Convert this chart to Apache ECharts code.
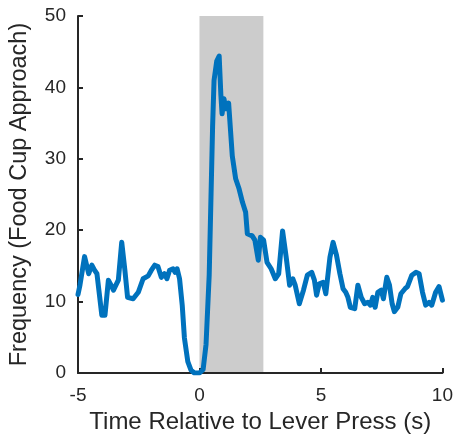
<!DOCTYPE html>
<html>
<head>
<meta charset="utf-8">
<script src="https://cdn.jsdelivr.net/npm/echarts@6/dist/echarts.min.js"></script>
<style>html,body{margin:0;padding:0;background:#fff}#c{width:456px;height:442px}</style>
</head>
<body>
<div id="c"></div>
<script>
const times = [-5.0,-4.92,-4.85,-4.73,-4.56,-4.43,-4.32,-4.22,-4.02,-3.89,-3.75,-3.64,-3.54,-3.34,-3.20,-3.07,-2.96,-2.73,-2.52,-2.32,-2.11,-1.98,-1.84,-1.71,-1.57,-1.44,-1.34,-1.23,-1.09,-1.00,-0.92,-0.82,-0.71,-0.62,-0.48,-0.35,-0.21,0.00,0.15,0.27,0.40,0.54,0.60,0.71,0.81,0.88,0.93,1.01,1.08,1.20,1.35,1.49,1.63,1.77,1.90,1.97,2.17,2.28,2.42,2.51,2.64,2.78,2.95,3.12,3.26,3.42,3.57,3.71,3.84,3.94,4.11,4.28,4.44,4.62,4.73,4.82,4.93,5.09,5.20,5.37,5.50,5.64,5.78,5.91,6.02,6.11,6.21,6.39,6.52,6.66,6.80,6.93,7.04,7.13,7.23,7.34,7.48,7.57,7.71,7.82,7.93,8.02,8.16,8.29,8.46,8.56,8.74,8.91,9.04,9.18,9.31,9.45,9.56,9.72,9.86,10.0];
const frequency = [11.0,12.3,12.3,16.3,13.9,15.1,14.4,13.9,8.1,8.1,13.0,12.3,11.6,13.0,18.3,14.4,10.6,10.4,11.3,13.2,13.6,14.4,15.1,14.9,13.4,13.9,13.2,14.4,14.6,14.1,14.6,13.2,9.5,4.9,1.6,0.4,0,0,0.5,4.0,13.7,34.5,41.0,43.7,44.4,39.0,36.3,38.4,37.0,37.8,30.4,27.2,25.8,23.9,22.5,19.5,19.2,18.6,15.8,19.0,18.6,15.5,14.6,13.2,13.9,19.9,16.2,12.3,13.2,12.3,9.7,11.6,13.7,14.1,13.0,10.9,12.5,12.7,11.1,16.2,18.3,16.5,13.9,11.8,11.3,10.6,9.2,9.0,12.3,10.6,9.7,9.9,9.5,10.6,9.2,11.3,11.6,10.4,13.4,12.3,9.7,8.6,9.2,11.1,11.8,12.1,13.7,14.1,13.9,11.3,9.5,9.9,9.5,11.3,12.1,10.2];
const shadeStart = 0;
const shadeEnd = 2.63;
const xTicks = [-5, 0, 5, 10];
const yTicks = [0, 10, 20, 30, 40, 50];

const chart = echarts.init(document.getElementById('c'), null, {renderer: 'canvas'});
const textColor = '#262626';
const fontFamily = 'Liberation Sans, Arial, sans-serif';
chart.setOption({
  animation: false,
  backgroundColor: '#ffffff',
  grid: {left: 76, right: 11, top: 16, bottom: 69, containLabel: false},
  xAxis: {
    type: 'value', min: xTicks[0], max: xTicks[xTicks.length-1], interval: 5,
    z: 5,
    name: 'Time Relative to Lever Press (s)', nameLocation: 'middle', nameGap: 37,
    nameTextStyle: {color: textColor, fontSize: 24, fontFamily: fontFamily},
    axisLine: {show: true, onZero: false, lineStyle: {color: textColor, width: 2}},
    axisTick: {show: true, inside: true, length: 5, lineStyle: {color: textColor, width: 2}},
    axisLabel: {color: textColor, fontSize: 19, fontFamily: fontFamily, margin: 13},
    splitLine: {show: false}
  },
  yAxis: {
    type: 'value', min: yTicks[0], max: yTicks[yTicks.length-1], interval: 10,
    z: 5,
    name: 'Frequency (Food Cup Approach)', nameLocation: 'middle', nameGap: 46, nameRotate: 90,
    nameTextStyle: {color: textColor, fontSize: 23.5, fontFamily: fontFamily},
    axisLine: {show: true, onZero: false, lineStyle: {color: textColor, width: 2}},
    axisTick: {show: true, inside: true, length: 5, lineStyle: {color: textColor, width: 2}},
    axisLabel: {color: textColor, fontSize: 19, fontFamily: fontFamily, margin: 12},
    splitLine: {show: false}
  },
  series: [
    {
      type: 'line', z: 1, data: [], silent: true,
      markArea: {
        silent: true,
        itemStyle: {color: '#cccccc', opacity: 1},
        data: [[{xAxis: shadeStart, yAxis: yTicks[0]}, {xAxis: shadeEnd, yAxis: yTicks[yTicks.length-1]}]]
      }
    },
    {
      type: 'line', z: 10, showSymbol: false, symbol: 'none',
      data: times.map((t, i) => [t, frequency[i]]),
      lineStyle: {color: '#0072BD', width: 5, join: 'round', cap: 'round'}
    }
  ]
});
</script>
</body>
</html>
